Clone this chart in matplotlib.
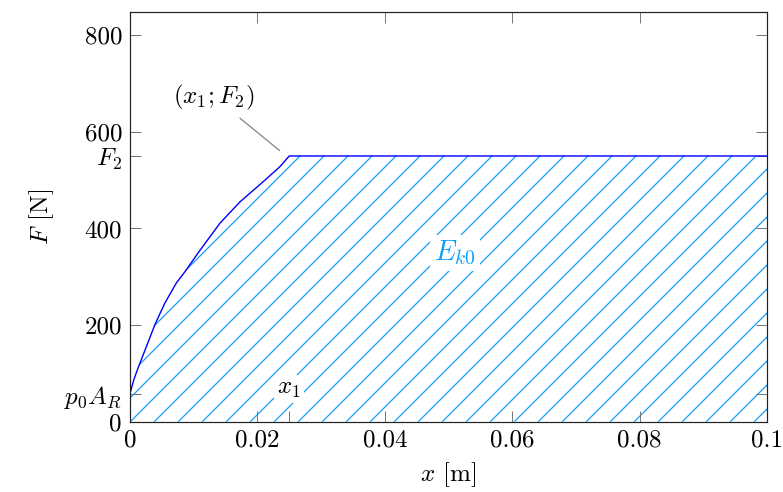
import matplotlib
matplotlib.use("Agg")
import matplotlib.pyplot as plt

plt.rcParams["font.family"] = "serif"
plt.rcParams["font.serif"] = ["cmr10", "DejaVu Serif"]
plt.rcParams["mathtext.fontset"] = "cm"
plt.rcParams["axes.formatter.use_mathtext"] = True
plt.rcParams["font.size"] = 12.5
plt.rcParams["hatch.linewidth"] = 0.6

# force curve
x_m = [0, 0.0006, 0.00126, 0.00256, 0.00388, 0.00545, 0.00727, 0.0086,
       0.011, 0.01413, 0.01727, 0.02093, 0.02355, 0.025, 0.1]
force_n = [58, 87, 111, 155, 200, 245, 287, 310,
           355, 411, 455, 497, 528, 550, 550]

x1 = 0.025
F2 = 550
p0AR = 58

xticks = [0, 0.02, 0.04, 0.06, 0.08, 0.1]
xtick_labels = ["0", "0.02", "0.04", "0.06", "0.08", "0.1"]
yticks = [0, p0AR, 200, 400, F2, 600, 800]
ytick_labels = ["0", "$p_0A_R$", "200", "400", "$F_2$", "600", "800"]

hatch_col = "#0a9cff"

fig = plt.figure(figsize=(783 / 144, 492 / 144), dpi=144)
ax = fig.add_axes([130 / 783, 70.3 / 492, 637 / 783, 409.7 / 492])

ax.fill_between(x_m, force_n, 0, facecolor="none", edgecolor=hatch_col,
                hatch="//", linewidth=0)
ax.plot(x_m, force_n, color="blue", linewidth=0.7)

ax.set_xlim(0, 0.1)
ax.set_ylim(0, 848)
ax.set_xticks(xticks)
ax.set_xticklabels(xtick_labels)
ax.set_yticks(yticks)
ax.set_yticklabels(ytick_labels)
ax.set_xticks([x1], minor=True)
ax.tick_params(which="both", direction="in", length=5.5, width=0.5,
               color="#777777", top=True, right=True, pad=4)
ax.tick_params(axis="x", which="minor", top=False)
for s in ax.spines.values():
    s.set_linewidth(0.6)
    s.set_color("#222222")

ax.set_xlabel("$x$ [m]", labelpad=4)
ax.set_ylabel("$F$ [N]", labelpad=4)

# annotations
ax.text(0.051, 349, "$E_{k0}$", color=hatch_col, ha="center", va="center",
        fontsize=14, bbox=dict(facecolor="white", edgecolor="none", pad=2))
ax.text(x1, 68, "$x_1$", ha="center", va="center",
        bbox=dict(facecolor="white", edgecolor="none", pad=1.5))
ax.annotate("$(x_1;F_2)$", xy=(0.0235, 561), xytext=(0.0132, 672),
            ha="center", va="center",
            arrowprops=dict(arrowstyle="-", color="gray", lw=0.6,
                            shrinkA=2, shrinkB=0))

fig.savefig("out.png", dpi=144)
